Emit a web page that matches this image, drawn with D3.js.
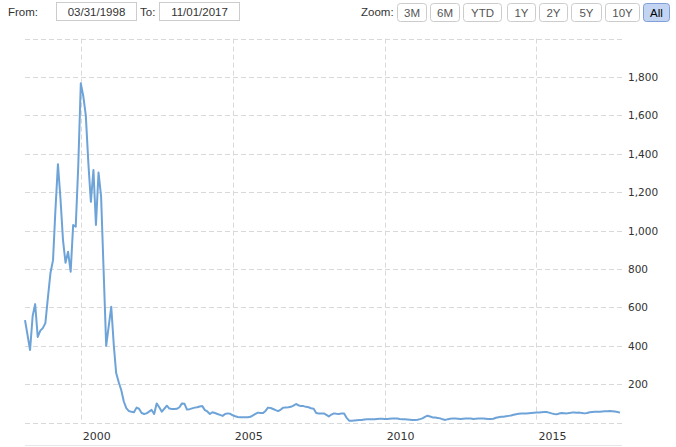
<!DOCTYPE html>
<html>
<head>
<meta charset="utf-8">
<script src="https://cdn.jsdelivr.net/npm/d3@7"></script>
<style>
body { margin: 0; background: #fff; }
</style>
</head>
<body>
<div id="chart"></div>
<script>
// monthly series, first point March 1998
var startMonth = new Date(1998, 2, 1);
var values = [
  534, 455, 378, 555, 617, 446, 479, 492, 518, 650,
  779, 846, 1100, 1346, 1170, 950, 833, 890, 786, 1029,
  1020, 1334, 1767, 1697, 1600, 1350, 1150, 1316, 1029, 1302,
  1177, 795, 400, 500, 604, 400, 258, 210, 170, 110,
  75, 60, 56, 54, 78, 72, 50, 45, 48, 57,
  66, 45, 100, 80, 57, 72, 88, 73, 71, 71,
  72, 80, 100, 98, 68, 70, 74, 78, 80, 84,
  86, 65, 58, 45, 54, 50, 45, 40, 35, 45,
  48, 46, 38, 33, 29, 28, 28, 28, 28, 30,
  38, 45, 52, 50, 50, 62, 78, 76, 71, 65,
  60, 68, 78, 79, 80, 82, 88, 97, 90, 86,
  86, 82, 80, 75, 72, 50, 47, 48, 48, 40,
  32, 42, 48, 46, 45, 48, 48, 25, 10, 10,
  11, 12, 13, 14, 16, 17, 17, 18, 17, 19,
  20, 20, 19, 19, 20, 21, 22, 21, 19, 18,
  17, 16, 15, 14, 14, 15, 18, 22, 30, 36,
  32, 27, 26, 24, 22, 17, 14, 18, 20, 22,
  21, 20, 19, 20, 21, 22, 21, 19, 20, 21,
  22, 21, 20, 19, 19, 20, 25, 28, 30, 31,
  33, 35, 37, 41, 44, 46, 47, 47, 48, 49,
  50, 51, 52, 53, 54, 55, 55, 52, 48, 45,
  43, 47, 50, 49, 48, 50, 52, 52, 51, 52,
  50, 48, 50, 54, 55, 56, 57, 57, 58, 59,
  59, 60, 59, 58, 55, 52
];
var yTicks = [200, 400, 600, 800, 1000, 1200, 1400, 1600, 1800];
var xTickYears = [2000, 2005, 2010, 2015];
var fromLabel = '03/31/1998';
var toLabel = '11/01/2017';
var zoomButtons = ['3M', '6M', 'YTD', '1Y', '2Y', '5Y', '10Y', 'All'];
var buttonWidths = [31, 31, 40, 30, 30, 32, 36, 28];

(function(d3) {

var data = values.map(function(v, i) {
  return { date: d3.timeMonth.offset(startMonth, i), value: v };
});

var width = 676;
var height = 447;
var plotLeft = 25, plotRight = 620, plotTop = 38.6, plotBottom = 422.6;

var svg = d3.select('#chart')
  .append('svg')
  .attr('width', width)
  .attr('height', height)
  .style('font-family', 'Liberation Sans, Arial, sans-serif');

var x = d3.scaleTime()
  .domain(d3.extent(data, function(d) { return d.date; }))
  .range([plotLeft, plotRight]);

var y = d3.scaleLinear()
  .domain([0, 2000])
  .range([plotBottom, plotTop]);

// horizontal grid (0 .. 2000)
svg.append('g')
  .selectAll('line')
  .data(d3.range(0, 2001, 200))
  .enter()
  .append('line')
  .attr('x1', plotLeft)
  .attr('x2', plotRight + 2)
  .attr('y1', function(d) { return Math.round(y(d)) + 0.5; })
  .attr('y2', function(d) { return Math.round(y(d)) + 0.5; })
  .attr('stroke', '#d9d9d9')
  .attr('stroke-dasharray', '5,3');

// vertical grid at year starts
var yearDates = xTickYears.map(function(yr) { return new Date(yr, 0, 1); });
svg.append('g')
  .selectAll('line')
  .data(yearDates)
  .enter()
  .append('line')
  .attr('x1', function(d) { return Math.round(x(d)) + 0.5; })
  .attr('x2', function(d) { return Math.round(x(d)) + 0.5; })
  .attr('y1', plotTop)
  .attr('y2', plotBottom)
  .attr('stroke', '#d9d9d9')
  .attr('stroke-dasharray', '5,3');

// y labels on the right
svg.append('g')
  .selectAll('text')
  .data(yTicks)
  .enter()
  .append('text')
  .attr('x', plotRight + 8)
  .attr('y', function(d) { return y(d) + 4; })
  .style('font-family', 'DejaVu Sans, Verdana, sans-serif')
  .style('font-size', '10.5px')
  .style('fill', '#333')
  .text(d3.format(','));

// x labels
svg.append('g')
  .selectAll('text')
  .data(yearDates)
  .enter()
  .append('text')
  .attr('x', function(d) { return x(d) + 16; })
  .attr('y', 440)
  .attr('text-anchor', 'middle')
  .style('font-family', 'DejaVu Sans, Verdana, sans-serif')
  .style('font-size', '11px')
  .style('fill', '#333')
  .text(d3.timeFormat('%Y'));

// navigator top edge
svg.append('line')
  .attr('x1', plotLeft)
  .attr('x2', plotRight + 2)
  .attr('y1', 445.5)
  .attr('y2', 445.5)
  .attr('stroke', '#e6e6e6');

var line = d3.line()
  .x(function(d) { return x(d.date); })
  .y(function(d) { return y(d.value); });

svg.append('path')
  .datum(data)
  .attr('d', line)
  .attr('fill', 'none')
  .attr('stroke', '#6ea3d8')
  .attr('stroke-width', 2)
  .attr('stroke-linejoin', 'round');

// range inputs
var header = svg.append('g').style('font-size', '11.5px');

header.append('text').attr('x', 8).attr('y', 16).style('fill', '#333').text('From:');
header.append('text').attr('x', 140).attr('y', 16).style('fill', '#333').text('To:');

[[56.5, fromLabel], [159.5, toLabel]].forEach(function(b) {
  header.append('rect')
    .attr('x', b[0]).attr('y', 2.5)
    .attr('width', 80).attr('height', 18)
    .attr('fill', '#fff')
    .attr('stroke', '#ccc');
  header.append('text')
    .attr('x', b[0] + 40).attr('y', 16)
    .attr('text-anchor', 'middle')
    .style('fill', '#333')
    .text(b[1]);
});

header.append('text').attr('x', 361).attr('y', 16).style('fill', '#333').text('Zoom:');

var bx = 397;
zoomButtons.forEach(function(label, i) {
  var w = buttonWidths[i];
  var selected = label === 'All';
  header.append('rect')
    .attr('x', bx + 0.5).attr('y', 3.5)
    .attr('width', w - 2).attr('height', 18)
    .attr('rx', 3)
    .attr('fill', selected ? '#c2d4f2' : '#fff')
    .attr('stroke', selected ? '#7f9fd6' : '#ccc');
  header.append('text')
    .attr('x', bx + w / 2 - 0.5).attr('y', 16.5)
    .attr('text-anchor', 'middle')
    .style('fill', selected ? '#000' : '#555')
    .text(label);
  bx += w + (i === 2 ? 4 : 2);
});

})(window.d3);
</script>
</body>
</html>
